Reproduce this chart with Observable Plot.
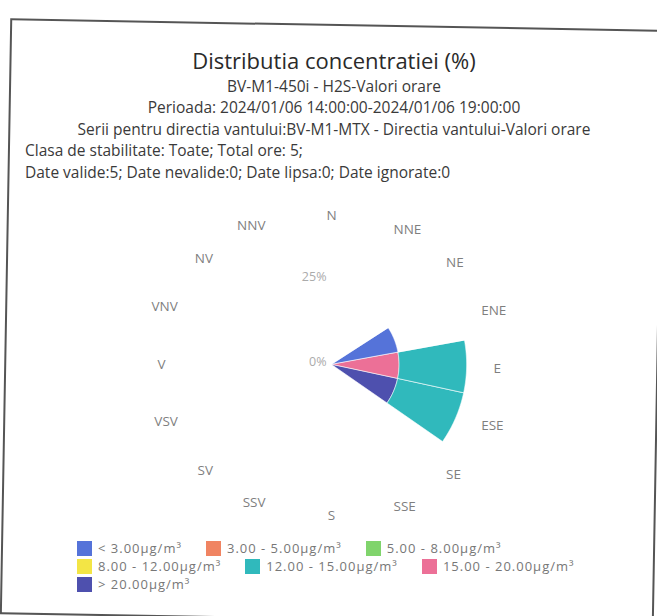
<!DOCTYPE html>
<html><head><meta charset="utf-8">
<script src="https://cdn.jsdelivr.net/npm/d3@7"></script>
<script src="https://cdn.jsdelivr.net/npm/@observablehq/plot@0.6"></script>
<style>
body{margin:0;background:#fff;font-family:"Open Sans",sans-serif;}
#page{position:relative;width:657px;height:616px;overflow:hidden;background:#fff;}
#frame{position:absolute;left:5px;top:24px;width:650px;height:592px;border:2px solid #555;transform:rotate(1deg);}
.t{position:absolute;white-space:nowrap;}
.c{left:0;width:668px;text-align:center;}
.sub{font-size:15.5px;color:#3a3a3a;line-height:21px;}
#chart{position:absolute;left:0;top:189px;}
#legend{position:absolute;left:77px;top:539px;width:540px;display:flex;flex-wrap:wrap;font-size:13px;letter-spacing:1px;color:#777;}
.item{display:flex;align-items:center;margin-right:24px;height:18px;}
.item span{line-height:18px;}
.sw{width:15px;height:15px;margin-right:6px;box-sizing:border-box;}
</style></head><body>
<div id="page">
  <div id="frame"></div>
  <div id="title" class="t c" style="top:45px;font-size:22px;line-height:30px;color:#2a2a2a;"></div>
  <div id="sub1" class="t c sub" style="top:75.5px;"></div>
  <div id="sub2" class="t c sub" style="top:97px;"></div>
  <div id="sub3" class="t c sub" style="top:118.5px;"></div>
  <div id="sub4" class="t sub" style="left:25px;top:140px;"></div>
  <div id="sub5" class="t sub" style="left:25px;top:161.5px;"></div>
  <div id="chart"></div>
  <div id="legend"></div>
</div>
<script>
// ---- texts ----
const titleText = "Distributia concentratiei (%)";
const subtitleLines = [
  "BV-M1-450i - H2S-Valori orare",
  "Perioada: 2024/01/06 14:00:00-2024/01/06 19:00:00",
  "Serii pentru directia vantului:BV-M1-MTX - Directia vantului-Valori orare",
  "Clasa de stabilitate: Toate; Total ore: 5;",
  "Date valide:5; Date nevalide:0; Date lipsa:0; Date ignorate:0"
];

// ---- categories ----
const directions = ["N","NNE","NE","ENE","E","ESE","SE","SSE","S","SSV","SV","VSV","V","VNV","NV","NNV"];
const seriesLabels = ["< 3.00μg/m³","3.00 - 5.00μg/m³","5.00 - 8.00μg/m³","8.00 - 12.00μg/m³","12.00 - 15.00μg/m³","15.00 - 20.00μg/m³","> 20.00μg/m³"];
const seriesColors = ["#5573d9","#f08462","#80d46c","#f3e545","#30b9bc","#ec7097","#4e50ae"];

// ---- series values (% of hours per direction) ----
//                 N NNE NE ENE E  ESE SE SSE S SSV SV VSV V VNV NV NNV
const sLt3    = [0, 0, 0, 20, 0,  0, 0, 0, 0, 0, 0, 0, 0, 0, 0, 0];
const s3to5   = [0, 0, 0,  0, 0,  0, 0, 0, 0, 0, 0, 0, 0, 0, 0, 0];
const s5to8   = [0, 0, 0,  0, 0,  0, 0, 0, 0, 0, 0, 0, 0, 0, 0, 0];
const s8to12  = [0, 0, 0,  0, 0,  0, 0, 0, 0, 0, 0, 0, 0, 0, 0, 0];
const s12to15 = [0, 0, 0,  0, 20, 20, 0, 0, 0, 0, 0, 0, 0, 0, 0, 0];
const s15to20 = [0, 0, 0,  0, 20, 0, 0, 0, 0, 0, 0, 0, 0, 0, 0, 0];
const sGt20   = [0, 0, 0,  0, 0,  20, 0, 0, 0, 0, 0, 0, 0, 0, 0, 0];
const series = [sLt3, s3to5, s5to8, s8to12, s12to15, s15to20, sGt20];

// ---- radial axis ticks ----
const radialTicks = [0, 25];
const radialTickLabels = ["0%", "25%"];

// ---- header ----
document.getElementById("title").textContent = titleText;
subtitleLines.forEach((s, i) => document.getElementById("sub" + (i + 1)).textContent = s);

// ---- layout constants ----
const R = 51.8;                 // % at the edge of the fitted domain
const pxPerPct = 175 / R;       // svg half-height / R
const tilt = 1;                 // slight rotation of the scanned page (deg)
const LA = 162, LB = 150;       // label ellipse (px)

// ---- build stacked sectors (last series innermost, like reversed stacks) ----
const step = 360 / directions.length;
const wedges = [];
directions.forEach((dir, i) => {
  let base = 0;
  for (let s = series.length - 1; s >= 0; s--) {
    const v = series[s][i];
    if (!v) continue;
    wedges.push({dir, s, a: i * step, r0: base, r1: base + v});
    base += v;
  }
});
const lon = a => 180 - a;          // compass angle -> longitude (north pole at centre)
const lat = r => 90 - r;           // radius (%) -> latitude
function sector(d) {
  const a0 = d.a - step / 2 + tilt, a1 = d.a + step / 2 + tilt;
  const ring = [];
  for (let a = a0; a <= a1 + 1e-9; a += 0.25) ring.push([lon(a), lat(d.r1)]);
  if (d.r0 === 0) ring.push([0, 90]);
  else for (let a = a1; a >= a0 - 1e-9; a -= 0.25) ring.push([lon(a), lat(d.r0)]);
  ring.push(ring[0]);
  let g = {type: "Polygon", coordinates: [ring]};
  if (d3.geoArea(g) > 2 * Math.PI) g = {type: "Polygon", coordinates: [ring.slice().reverse()]};
  return g;
}
const angleOf = d => directions.indexOf(d) * step;
function labelPos(d) {
  const t = angleOf(d) * Math.PI / 180;
  const px = LA * Math.sin(t), py = LB * Math.cos(t);
  const phi = Math.atan2(px, py) * 180 / Math.PI;
  return [lon(phi), lat(Math.hypot(px, py) / pxPerPct)];
}
const rightSide = directions.filter(d => angleOf(d) > 0 && angleOf(d) < 180);
const leftSide = directions.filter(d => angleOf(d) > 180);
const vertical = directions.filter(d => angleOf(d) === 0 || angleOf(d) === 180);
const dirText = (data, anchor, dx, dy) => Plot.text(data, {
  x: d => labelPos(d)[0], y: d => labelPos(d)[1], text: d => d,
  textAnchor: anchor, dx, dy, fill: "#7f7f7f", fontSize: 13.5
});

const chart = Plot.plot({
  width: 657,
  height: 350,
  marginTop: 0, marginBottom: 0, marginRight: 0, marginLeft: 5,
  projection: {
    type: "azimuthal-equidistant",
    rotate: [0, -90],
    domain: d3.geoCircle().center([0, 90]).radius(R)()
  },
  color: {type: "identity"},
  style: {fontFamily: "'Open Sans', sans-serif", background: "transparent"},
  marks: [
    Plot.geo(wedges, {geometry: sector, fill: d => seriesColors[d.s], stroke: "#fff", strokeWidth: 0.6}),
    dirText(rightSide, "start", 0, 4),
    dirText(leftSide, "end", -4, 0),
    dirText(vertical, "middle", 0, 1),
    Plot.text(radialTicks, {x: () => 180, y: d => lat(d), text: (d, i) => radialTickLabels[i], textAnchor: "end", dx: -5, dy: -3, fill: "#ababab", fontSize: 12.5})
  ]
});
document.getElementById("chart").appendChild(chart);

// ---- legend ----
const legend = document.getElementById("legend");
seriesLabels.forEach((lab, i) => {
  const it = document.createElement("div");
  it.className = "item";
  const sw = document.createElement("div");
  sw.className = "sw";
  sw.style.background = seriesColors[i];
  const tx = document.createElement("span");
  tx.textContent = lab;
  it.appendChild(sw); it.appendChild(tx);
  legend.appendChild(it);
});
</script>
</body></html>
